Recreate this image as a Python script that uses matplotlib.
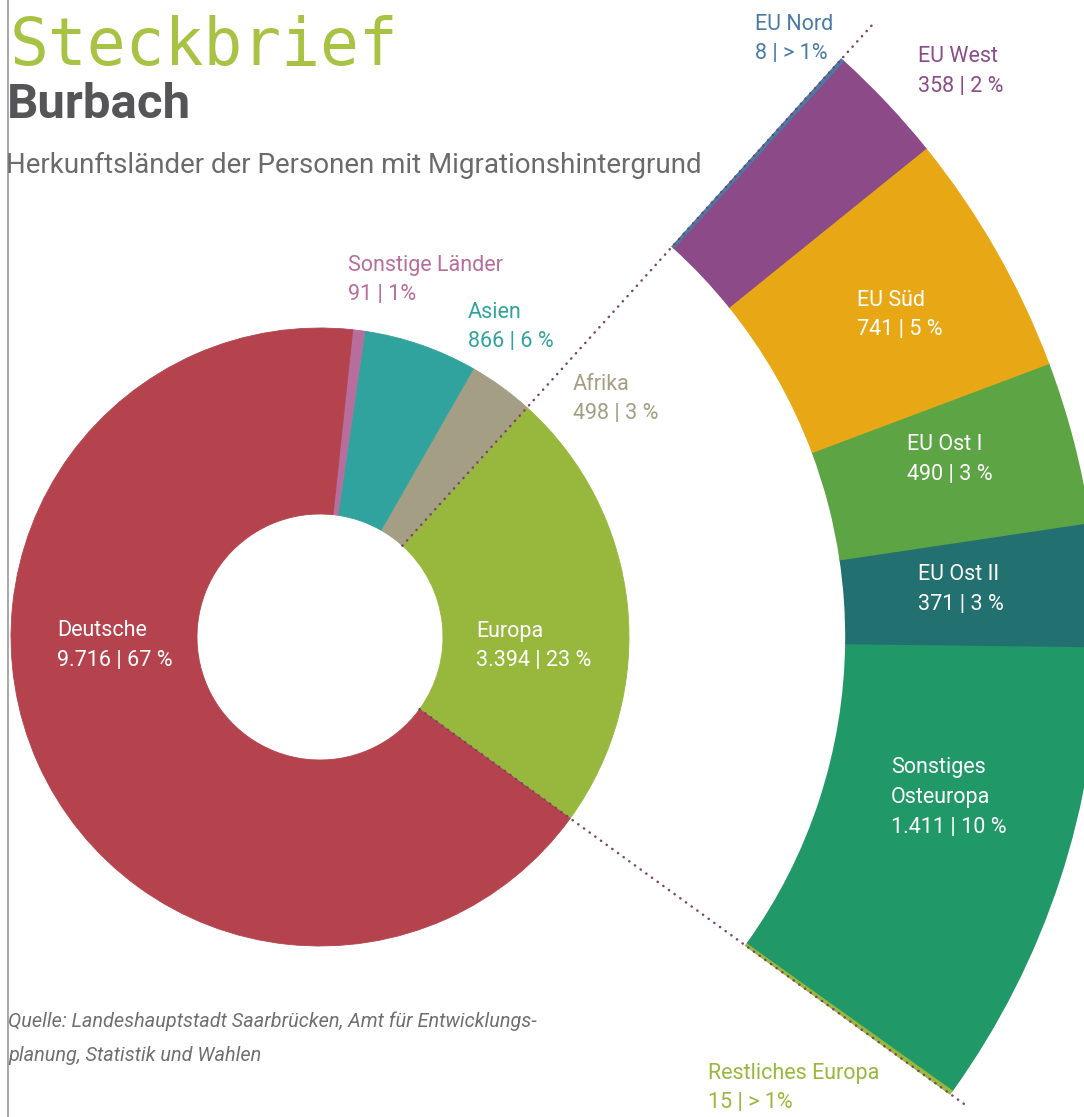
import numpy as np
from matplotlib import pyplot as plt

plt.rcParams['font.family'] = ['Roboto', 'DejaVu Sans']

# inner donut: countries of origin
regions = ['Europa', 'Afrika', 'Asien', 'Sonstige Länder', 'Deutsche']
counts = [3394, 498, 866, 91, 9716]
pcts = ['23 %', '3 %', '6 %', '1%', '67 %']
colors = ['#97b83c', '#a39e84', '#31a39e', '#b86e9c', '#b5434d']

# outer ring: breakdown of Europa (counter-clockwise from the bottom)
eu_parts = ['Restliches Europa', 'Sonstiges Osteuropa', 'EU Ost II', 'EU Ost I',
            'EU Süd', 'EU West', 'EU Nord']
eu_counts = [15, 1411, 371, 490, 741, 358, 8]
eu_pcts = ['> 1%', '10 %', '3 %', '3 %', '5 %', '2 %', '> 1%']
eu_colors = ['#97b83c', '#219867', '#237071', '#5da445', '#e8a816', '#8c4a88', '#4a7aa6']

W, H = 1084, 1117
def Y(y):
    return H - y

def fmt(n):
    return '{:,}'.format(n).replace(',', '.')

fig = plt.figure(figsize=(W/100, H/100), dpi=100)
ax = fig.add_axes([0, 0, 1, 1])

cx, cy = 320, Y(637)
total = sum(counts)
span = 360.0 * counts[0] / total
start = 6.0 - span / 2   # Europa centred slightly above horizontal

wedges, _ = ax.pie(counts, colors=colors, startangle=start, counterclock=True,
                   center=(cx, cy), radius=309,
                   wedgeprops=dict(width=309-123, linewidth=0.6))
for w in wedges:
    w.set_edgecolor(w.get_facecolor())

ring_vals = eu_counts + [total - sum(eu_counts)]
ring, _ = ax.pie(ring_vals, colors=eu_colors + ['none'], startangle=start,
                 counterclock=True, center=(cx, cy), radius=778,
                 wedgeprops=dict(width=778-526, linewidth=1.2))
for w in ring[:-1]:
    w.set_edgecolor(w.get_facecolor())
ring[-1].set_edgecolor('none')

# dotted guide lines along the Europa wedge edges
for ang, r_end in [(start, 800), (start + span, 828)]:
    t = np.radians(ang)
    ax.plot([cx + 123*np.cos(t), cx + r_end*np.cos(t)],
            [cy + 123*np.sin(t), cy + r_end*np.sin(t)],
            color='#7b4466', lw=1.8, linestyle=(0, (0.1, 2.7)),
            dash_capstyle='round', zorder=5)

ax.set_xlim(0, W)
ax.set_ylim(0, H)
ax.axis('off')

ax.axvline(8, color='#9a9a9a', lw=1.2)

# headings
ax.text(10, Y(65), 'Steckbrief', family='DejaVu Sans Mono', fontsize=46.5,
        color='#a8c244', va='baseline', ha='left')
ax.text(7, Y(118), 'Burbach', fontsize=35.5, fontweight='bold', color='#555558',
        va='baseline', ha='left')
ax.text(6, Y(173), 'Herkunftsländer der Personen mit Migrationshintergrund',
        fontsize=20, color='#6b6b6b', va='baseline', ha='left')
ax.text(8, Y(1027), 'Quelle: Landeshauptstadt Saarbrücken, Amt für Entwicklungs-',
        fontsize=14.3, style='italic', color='#707070', va='baseline')
ax.text(8, Y(1061), 'planung, Statistik und Wahlen',
        fontsize=14.3, style='italic', color='#707070', va='baseline')

# segment labels: (x, y of first line, colour)
label_pos = {
    'Deutsche': (57, 631, 'white'),
    'Europa': (476, 631, 'white'),
    'Afrika': (573, 384, colors[1]),
    'Asien': (468, 312, colors[2]),
    'Sonstige Länder': (348, 265, colors[3]),
    'Restliches Europa': (708, 1073, eu_colors[0]),
    'Sonstiges Osteuropa': (891, 768, 'white'),
    'EU Ost II': (918, 575, 'white'),
    'EU Ost I': (907, 445, 'white'),
    'EU Süd': (857, 300, 'white'),
    'EU West': (918, 57, eu_colors[5]),
    'EU Nord': (755, 24, eu_colors[6]),
}

names = regions + eu_parts
nums = counts + eu_counts
pc = pcts + eu_pcts
for name, n, p in zip(names, nums, pc):
    x, y, c = label_pos[name]
    if name == 'Sonstiges Osteuropa':
        lines = ['Sonstiges', 'Osteuropa', fmt(n) + ' | ' + p]
    else:
        lines = [name, fmt(n) + ' | ' + p]
    for k, s in enumerate(lines):
        ax.text(x, Y(y + 29.5*k), s, fontsize=15.5, color=c, va='center', ha='left')

plt.savefig('out.png', dpi=100)
